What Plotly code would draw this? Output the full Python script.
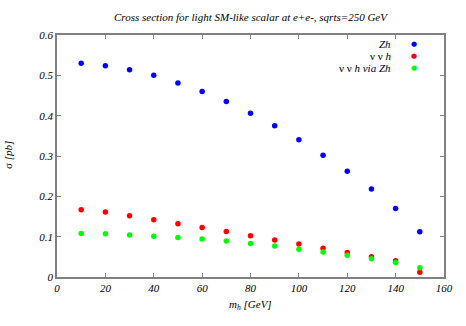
import plotly.graph_objects as go

mh = [10, 20, 30, 40, 50, 60, 70, 80, 90, 100, 110, 120, 130, 140, 150]
zh = [0.530, 0.524, 0.514, 0.500, 0.481, 0.460, 0.435, 0.406, 0.375, 0.340, 0.302, 0.262, 0.218, 0.170, 0.112]
nnh = [0.167, 0.161, 0.152, 0.142, 0.132, 0.123, 0.113, 0.102, 0.092, 0.082, 0.071, 0.061, 0.050, 0.040, 0.012]
nnh_zh = [0.108, 0.107, 0.104, 0.101, 0.098, 0.094, 0.089, 0.083, 0.077, 0.069, 0.062, 0.054, 0.045, 0.036, 0.023]

series = [
    ("<i>Zh</i>", zh, "#0000ff"),
    ("ν ν <i>h</i>", nnh, "#ff0000"),
    ("ν ν <i>h via Zh</i>", nnh_zh, "#00ff00"),
]

x_ticks = [0, 20, 40, 60, 80, 100, 120, 140, 160]
y_ticks = [0, 0.1, 0.2, 0.3, 0.4, 0.5, 0.6]
y_labels = ["0", "0.1", "0.2", "0.3", "0.4", "0.5", "0.6"]

font = "Liberation Serif"
fig = go.Figure()
for name, vals, col in series:
    fig.add_trace(go.Scatter(x=mh, y=vals, mode="markers", name=name,
                             marker=dict(color=col, size=5.5), showlegend=False))

# legend (text right-aligned, marker to the right, gnuplot style)
for i, (name, vals, col) in enumerate(series):
    fig.add_annotation(xref="paper", yref="paper", x=0.868, y=0.963 - i * 0.0496,
                       text=name, showarrow=False, xanchor="right", yanchor="middle",
                       font=dict(family=font, size=11, color="black"))
    fig.add_annotation(xref="paper", yref="paper", x=0.922, y=0.963 - i * 0.0496,
                       text="●", showarrow=False, xanchor="center", yanchor="middle",
                       font=dict(family="DejaVu Sans", size=7, color=col))

# axis titles
fig.add_annotation(xref="paper", yref="paper", x=-0.127, y=0.504, textangle=-90,
                   text="σ <i>[pb]</i>", showarrow=False, xanchor="center", yanchor="middle",
                   font=dict(family=font, size=11, color="black"))
fig.add_annotation(xref="paper", yref="paper", x=0.5, y=-0.116,
                   text="<i>m<sub>h</sub> [GeV]</i>", showarrow=False, xanchor="center", yanchor="middle",
                   font=dict(family=font, size=11, color="black"))

axis_common = dict(showline=True, linecolor="#808080", linewidth=1.5, mirror="ticks",
                   ticks="inside", ticklen=4, tickcolor="#808080", tickwidth=1,
                   showgrid=False, zeroline=False, automargin=False,
                   tickfont=dict(family=font, size=11, color="black", style="italic"))

fig.update_layout(
    width=466, height=326,
    font=dict(family=font, size=11, color="black"),
    margin=dict(l=57, r=22, t=35, b=49),
    paper_bgcolor="white", plot_bgcolor="white",
    title=dict(text="<i>Cross section for light SM-like scalar at e+e-, sqrts=250 GeV</i>",
               xref="paper", x=0.5, xanchor="center", yref="container", y=1 - 17 / 326, yanchor="middle",
               font=dict(family=font, size=11, color="black")),
    xaxis=dict(range=[0, 160], tickvals=x_ticks, ticktext=[str(v) for v in x_ticks], **axis_common),
    yaxis=dict(range=[0, 0.6], tickvals=y_ticks, ticktext=y_labels, **axis_common),
)
fig.write_html("out.html", config={"displayModeBar": False},
               post_script="document.body.style.margin='0';document.body.style.padding='0';")
